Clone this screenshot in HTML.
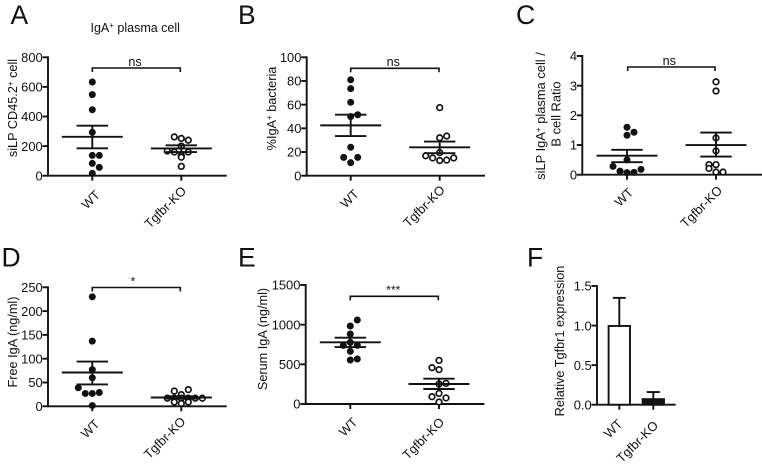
<!DOCTYPE html>
<html lang="en">
<head>
<meta charset="utf-8">
<title>IgA plasma cell panels</title>
<style>
html,body{margin:0;padding:0;background:#fff;width:762px;height:467px;overflow:hidden}
svg{display:block}
text{font-family:"Liberation Sans",Arial,sans-serif;fill:#111}
</style>
</head>
<body>
<svg id="figure" width="762" height="467" viewBox="0 0 762 467" xmlns="http://www.w3.org/2000/svg"></svg>
<script>
// Chart data
const groupLabels = ['WT', 'Tgfbr-KO'];

const aTicks = [0, 200, 400, 600, 800];
const aWtValues = [633, 548, 446, 293, 137, 137, 83, 56, 16];
const aWtLanes = [0, 0, 0, 0, 0, 1, 0, 1, 0];
const aKoValues = [262, 252, 240, 200, 167, 160, 138, 160, 125, 63];
const aKoLanes = [-1, 0, 1, 0, -2, -1, 0, 1, 0, 0];
const aMeans = [263, 184];
const aUppers = [338, 205];
const aLowers = [185, 160];
const aSignificance = ['ns'];

const bTicks = [0, 20, 40, 60, 80, 100];
const bWtValues = [81, 73.5, 62, 50, 51.5, 24, 15.5, 15.5, 11];
const bWtLanes = [0, 0, 0, 0, 1, 0, -1, 1, 0];
const bKoValues = [57.5, 32, 33.5, 19.5, 16.8, 15, 12.8, 13.2, 15];
const bKoLanes = [0, 0, 1, 0, -2, -1, 0, 1, 2];
const bMeans = [42.5, 24];
const bUppers = [51.5, 28.8];
const bLowers = [33.5, 19];
const bSignificance = ['ns'];

const cTicks = [0, 1, 2, 3, 4];
const cWtValues = [1.6, 1.33, 1.43, 0.5, 0.28, 0.12, 0.07, 0.08, 0.18];
const cWtLanes = [0, 0, 1, 0, -2, -1, 0, 1, 2];
const cKoValues = [3.13, 2.82, 1.24, 0.8, 0.34, 0.34, 0.21, 0.09, 0.09];
const cKoLanes = [0, 0, 0, 0, -1, 0, -1, 0, 1];
const cMeans = [0.64, 1.0];
const cUppers = [0.84, 1.42];
const cLowers = [0.42, 0.61];
const cSignificance = ['ns'];

const dTicks = [0, 50, 100, 150, 200, 250];
const dWtValues = [230, 137, 77, 60, 39, 27, 27, 29, 1.5];
const dWtLanes = [0, 0, 0, 0, -2, -1, 0, 1, 0];
const dKoValues = [32, 35, 24.5, 17, 17, 17, 17, 17, 17, 9, 9, 6];
const dKoLanes = [-1, 1, 0, -2, -1, 0, 1, 2, 3, -1, 1, 0];
const dMeans = [71, 18.5];
const dUppers = [94, 21];
const dLowers = [46, 16];
const dSignificance = ['*'];

const eTicks = [0, 500, 1000, 1500];
const eWtValues = [1059, 983, 882, 777, 739, 739, 664, 555, 567];
const eWtLanes = [1, 0, 0, 0, -1, 1, 0, 0, 1];
const eKoValues = [550, 458, 433, 252, 260, 134, 92, 76, 25];
const eKoLanes = [0, -1, 0, 0, 1, 0, -1, 1, 0];
const eMeans = [777, 252];
const eUppers = [836, 319];
const eLowers = [718, 189];
const eSignificance = ['***'];

const fTicks = [0, 0.5, 1.0, 1.5];
const fMeans = [0.995, 0.07];
const fUppers = [1.35, 0.16];

const NS = 'http://www.w3.org/2000/svg';
const INK = '#111';
const svg = document.getElementById('figure');

function node(parent, tag, attrs) {
  const el = document.createElementNS(NS, tag);
  for (const k in attrs) el.setAttribute(k, attrs[k]);
  parent.appendChild(el);
  return el;
}
function line(parent, x1, y1, x2, y2, w) {
  return node(parent, 'line', {x1, y1, x2, y2, stroke: INK, 'stroke-width': w || 1.9});
}
function supLabel(parent, parts, attrs) {
  const t = node(parent, 'text', attrs);
  parts.forEach(function (p) {
    const s = document.createElementNS(NS, 'tspan');
    s.textContent = p.sup || p.t;
    if (p.sup) { s.setAttribute('font-size', '8'); s.setAttribute('dy', '-4'); }
    if (p.after) { s.setAttribute('dy', '4'); }
    t.appendChild(s);
  });
  return t;
}

function drawFrame(p) {
  const g = node(svg, 'g', {});
  
  
  const sy = function (v) { return p.y0 - (v / p.ticks[p.ticks.length - 1]) * (p.y0 - p.yTop); };

  const letter = node(g, 'text', {x: p.letterX, y: p.letterY, 'font-size': 26.5});
  letter.textContent = p.id;
  
  

  const yAxis = line(g, p.xAxis, p.y0 + 0.95, p.xAxis, p.yTop - 0.95);
  
  
  const xAxis = line(g, p.xAxis, p.y0, p.xEnd, p.y0);
  
  

  p.ticks.forEach(function (v) {
    const yy = sy(v);
    const tick = line(g, p.xAxis - 5.5, yy, p.xAxis, yy);
    
    
    const lab = node(g, 'text', {x: p.xAxis - 5.3, y: yy + 4.7, 'text-anchor': 'end', 'font-size': 12.9});
    lab.textContent = p.format ? v.toFixed(1) : String(v);
    
    
  });

  groupLabels.forEach(function (name, i) {
    const cx = p.centers[i];
    const tick = line(g, cx, p.y0, cx, p.y0 + 5);
    
    
    const lx = cx + p.labelOffsets[i][0], ly = p.y0 + p.labelOffsets[i][1];
    const lab = node(g, 'text', {x: lx, y: ly, 'text-anchor': 'end', 'font-size': 12.8, transform: 'rotate(-45 ' + lx + ' ' + ly + ')'});
    lab.textContent = name;
    
    
  });

  p.yLabels.forEach(function (yl) {
    const lab = supLabel(g, yl.parts, {x: 0, y: 0, 'text-anchor': 'middle', 'font-size': yl.size || 12.7, transform: 'translate(' + yl.x + ' ' + yl.y + ') rotate(-90)'});
    
    
  });
  return {g: g, sy: sy};
}

function drawDotPanel(p) {
  const f = drawFrame(p);
  const g = f.g, sy = f.sy;
  p.series.forEach(function (s, i) {
    const cx = p.centers[i];
    s.values.forEach(function (v, k) {
      const dot = node(g, 'circle', {
        cx: cx + s.lanes[k] * 7,
        cy: sy(v),
        r: i === 0 ? 3.5 : 2.8,
        fill: i === 0 ? INK : '#fff',
        stroke: INK,
        'stroke-width': i === 0 ? 0 : 1.7
      });
      
      
    });
    const mean = line(g, cx - 30.5, sy(p.means[i]), cx + 30.5, sy(p.means[i]));
    
    
    const stem = line(g, cx, sy(p.uppers[i]), cx, sy(p.lowers[i]));
    
    
    const capHi = line(g, cx - 15.7, sy(p.uppers[i]), cx + 15.7, sy(p.uppers[i]));
    
    
    const capLo = line(g, cx - 15.7, sy(p.lowers[i]), cx + 15.7, sy(p.lowers[i]));
    
    
  });
  const b = p.bracket;
  const br = node(g, 'path', {d: 'M' + b.x1 + ' ' + (b.y + 4) + 'V' + b.y + 'H' + b.x2 + 'V' + (b.y + 4), fill: 'none', stroke: INK, 'stroke-width': 1.6});
  
  
  const sig = node(g, 'text', {x: b.tx, y: b.ty, 'text-anchor': 'middle', 'font-size': b.size});
  sig.textContent = p.significance[0];
  
  
}

function drawBarPanel(p) {
  const f = drawFrame(p);
  const g = f.g, sy = f.sy;
  p.means.forEach(function (v, i) {
    const cx = p.centers[i];
    const stem = line(g, cx, sy(p.uppers[i]), cx, sy(v));
    
    
    const cap = line(g, cx - 6.5, sy(p.uppers[i]), cx + 6.5, sy(p.uppers[i]));
    
    
    const bar = node(g, 'rect', {x: cx - 10.7, y: sy(v), width: 21.4, height: Math.max(0, p.y0 - sy(v)), fill: i === 0 ? '#fff' : INK, stroke: INK, 'stroke-width': 1.9});
    
    
  });
}

drawDotPanel({
  id: 'A', letterX: 10.5, letterY: 24, xAxis: 48, xEnd: 226.7, y0: 175.7, yTop: 57.3, centers: [92.3, 181.3], ticks: aTicks,
  labelOffsets: [[8.5, 20], [5.7, 16]],
  yLabels: [{x: 16.8, y: 108, parts: [{t: 'siLP CD45.2'}, {sup: '+'}, {t: ' cell', after: true}]}],
  series: [{values: aWtValues, lanes: aWtLanes}, {values: aKoValues, lanes: aKoLanes}],
  means: aMeans, uppers: aUppers, lowers: aLowers, significance: aSignificance,
  bracket: {x1: 92.3, x2: 180.3, y: 68, tx: 135, ty: 66, size: 12.6}
});
drawDotPanel({
  id: 'B', letterX: 238, letterY: 24, xAxis: 306.7, xEnd: 485, y0: 175.7, yTop: 57.3, centers: [350.7, 439.7], ticks: bTicks,
  labelOffsets: [[9, 19], [6, 15]],
  yLabels: [{x: 275.8, y: 108.5, parts: [{t: '%IgA'}, {sup: '+'}, {t: ' bacteria', after: true}]}],
  series: [{values: bWtValues, lanes: bWtLanes}, {values: bKoValues, lanes: bKoLanes}],
  means: bMeans, uppers: bUppers, lowers: bLowers, significance: bSignificance,
  bracket: {x1: 350.7, x2: 439, y: 68.3, tx: 393.3, ty: 66, size: 12.6}
});
drawDotPanel({
  id: 'C', letterX: 516, letterY: 24, xAxis: 582.3, xEnd: 762, y0: 174.7, yTop: 56, centers: [627, 716], ticks: cTicks,
  labelOffsets: [[7, 18.5], [7, 16.5]],
  yLabels: [
    {x: 544.8, y: 116, size: 12.9, parts: [{t: 'siLP IgA'}, {sup: '+'}, {t: ' plasma cell /', after: true}]},
    {x: 560.3, y: 114, size: 12.9, parts: [{t: 'B cell Ratio'}]}
  ],
  series: [{values: cWtValues, lanes: cWtLanes}, {values: cKoValues, lanes: cKoLanes}],
  means: cMeans, uppers: cUppers, lowers: cLowers, significance: cSignificance,
  bracket: {x1: 627.7, x2: 715, y: 67, tx: 669.3, ty: 65, size: 12.6}
});
drawDotPanel({
  id: 'D', letterX: 1.5, letterY: 266.5, xAxis: 48, xEnd: 226.7, y0: 406.3, yTop: 287.3, centers: [92.3, 181.3], ticks: dTicks,
  labelOffsets: [[8, 18.5], [5, 16]],
  yLabels: [{x: 16.8, y: 342, parts: [{t: 'Free IgA (ng/ml)'}]}],
  series: [{values: dWtValues, lanes: dWtLanes}, {values: dKoValues, lanes: dKoLanes}],
  means: dMeans, uppers: dUppers, lowers: dLowers, significance: dSignificance,
  bracket: {x1: 92.3, x2: 180.3, y: 287.5, tx: 133, ty: 285.5, size: 12}
});
drawDotPanel({
  id: 'E', letterX: 238, letterY: 266.5, xAxis: 305.7, xEnd: 484.3, y0: 404, yTop: 285, centers: [350.3, 439], ticks: eTicks,
  labelOffsets: [[8, 19], [6, 19]],
  yLabels: [{x: 266.8, y: 339, parts: [{t: 'Serum IgA (ng/ml)'}]}],
  series: [{values: eWtValues, lanes: eWtLanes}, {values: eKoValues, lanes: eKoLanes}],
  means: eMeans, uppers: eUppers, lowers: eLowers, significance: eSignificance,
  bracket: {x1: 350.3, x2: 438.3, y: 296.3, tx: 393.3, ty: 294, size: 12}
});
drawBarPanel({
  id: 'F', letterX: 527, letterY: 266.5, xAxis: 597, xEnd: 675.7, y0: 404.7, yTop: 286, centers: [619.3, 653.3], ticks: fTicks, format: true,
  labelOffsets: [[4, 20], [5.7, 21.5]],
  yLabels: [{x: 563.8, y: 341, parts: [{t: 'Relative Tgfbr1 expression'}]}],
  means: fMeans, uppers: fUppers
});

const title = supLabel(svg, [{t: 'IgA'}, {sup: '+'}, {t: ' plasma cell', after: true}], {x: 90.5, y: 32, 'font-size': 12.5});


</script>
</body>
</html>
